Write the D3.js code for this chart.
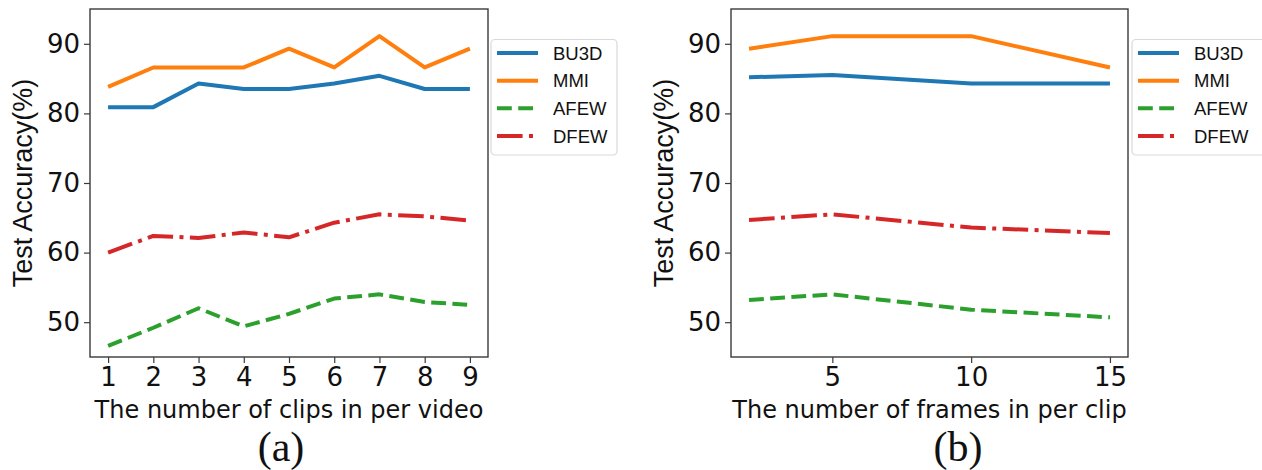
<!DOCTYPE html>
<html>
<head>
<meta charset="utf-8">
<script src="https://cdn.jsdelivr.net/npm/d3@7"></script>
<style>
  html, body { margin: 0; padding: 0; background: #fff; }
  svg { display: block; }
  text { font-family: "DejaVu Sans", sans-serif; fill: #111; }
</style>
</head>
<body>
<svg id="chart" width="1262" height="470"></svg>
<script>
// ---- data ----
const seriesNames = ["BU3D", "MMI", "AFEW", "DFEW"];
const seriesColors = ["#1f77b4", "#ff7f0e", "#2ca02c", "#d62728"];

// (a) clips per video
const clipsX = [1, 2, 3, 4, 5, 6, 7, 8, 9];
const clipsBU3D = [80.9, 80.9, 84.3, 83.5, 83.5, 84.3, 85.4, 83.5, 83.5];
const clipsMMI  = [83.8, 86.6, 86.6, 86.6, 89.3, 86.6, 91.1, 86.6, 89.3];
const clipsAFEW = [46.6, 49.2, 52.0, 49.4, 51.2, 53.4, 54.0, 52.9, 52.5];
const clipsDFEW = [60.0, 62.4, 62.1, 62.9, 62.2, 64.3, 65.5, 65.2, 64.6];

// (b) frames per clip
const framesX = [2, 5, 10, 15];
const framesBU3D = [85.2, 85.5, 84.3, 84.3];
const framesMMI  = [89.3, 91.1, 91.1, 86.6];
const framesAFEW = [53.2, 54.0, 51.8, 50.7];
const framesDFEW = [64.7, 65.5, 63.6, 62.8];

const yTicks = [50, 60, 70, 80, 90];
const clipsTicks = [1, 2, 3, 4, 5, 6, 7, 8, 9];
const framesTicks = [5, 10, 15];

const yLabel = "Test Accuracy(%)";
const clipsLabel = "The number of clips in per video";
const framesLabel = "The number of frames in per clip";
const panelLabels = ["(a)", "(b)"];

// ---- drawing ----
const svg = d3.select("#chart");
const LW = 4;
const dashes = [null, null, [3.7*LW, 1.6*LW], [6.4*LW, 1.6*LW, 1*LW, 1.6*LW]];

function panel(cfg) {
  const { left, right, top, bottom, xDomain, xs, ys, xTicks, xLabel, label, labelX, legendX, legendW } = cfg;
  const g = svg.append("g");
  const x = d3.scaleLinear().domain(xDomain).range([left, right]);
  const y = d3.scaleLinear().domain([45, 95]).range([bottom, top]);

  // lines
  const line = d3.line().x(d => x(d[0])).y(d => y(d[1]));
  ys.forEach((vals, i) => {
    g.append("path")
      .datum(xs.map((xv, j) => [xv, vals[j]]))
      .attr("fill", "none")
      .attr("stroke", seriesColors[i])
      .attr("stroke-width", LW)
      .attr("stroke-linejoin", "round")
      .attr("stroke-dasharray", dashes[i] ? dashes[i].join(",") : null)
      .attr("d", line);
  });

  // frame
  g.append("rect")
    .attr("x", left).attr("y", top)
    .attr("width", right - left).attr("height", bottom - top)
    .attr("fill", "none").attr("stroke", "#3a3a3a").attr("stroke-width", 1.4);

  // axes
  const ax = g.append("g").attr("transform", `translate(0,${bottom})`)
    .call(d3.axisBottom(x).tickValues(xTicks).tickSize(6).tickPadding(5).tickFormat(d3.format("d")));
  const ay = g.append("g").attr("transform", `translate(${left},0)`)
    .call(d3.axisLeft(y).tickValues(yTicks).tickSize(6).tickPadding(4).tickFormat(d3.format("d")));
  [ax, ay].forEach(a => {
    a.select(".domain").remove();
    a.selectAll(".tick line").attr("stroke", "#3a3a3a").attr("stroke-width", 1.2);
    a.selectAll(".tick text").style("font-size", "26px").style("font-family", "DejaVu Sans").attr("fill", "#111");
  });

  // axis labels
  g.append("text")
    .attr("x", (left + right) / 2).attr("y", 418)
    .attr("text-anchor", "middle").style("font-size", "24px")
    .text(xLabel);
  g.append("text")
    .attr("transform", `translate(${left - 58},${(top + bottom) / 2}) rotate(-90)`)
    .attr("text-anchor", "middle")
    .style("font-family", "'Liberation Sans', Arial, sans-serif")
    .style("font-size", "27px")
    .text(yLabel);
  g.append("text")
    .attr("x", labelX).attr("y", 461)
    .attr("text-anchor", "middle")
    .style("font-family", "'Liberation Serif', 'Times New Roman', serif")
    .style("font-size", "42px")
    .text(label);

  // legend
  const lg = g.append("g");
  lg.append("rect")
    .attr("x", legendX).attr("y", 39.5)
    .attr("width", legendW).attr("height", 115.5)
    .attr("rx", 4).attr("ry", 4)
    .attr("fill", "#fff").attr("fill-opacity", 0.8)
    .attr("stroke", "#d9d9d9").attr("stroke-width", 1.2);
  const rowY = d3.scalePoint().domain(seriesNames).range([53, 136]);
  seriesNames.forEach((name, i) => {
    const yy = rowY(name);
    lg.append("line")
      .attr("x1", legendX + 6).attr("x2", legendX + 47)
      .attr("y1", yy).attr("y2", yy)
      .attr("stroke", seriesColors[i]).attr("stroke-width", LW)
      .attr("stroke-dasharray", dashes[i] ? dashes[i].join(",") : null);
    lg.append("text")
      .attr("x", legendX + 62).attr("y", yy + 6.8)
      .style("font-family", "'Liberation Sans', Arial, sans-serif")
      .style("font-size", "18.5px")
      .text(name);
  });
}

panel({
  left: 90, right: 488, top: 9, bottom: 357,
  xDomain: [0.6, 9.4], xs: clipsX,
  ys: [clipsBU3D, clipsMMI, clipsAFEW, clipsDFEW],
  xTicks: clipsTicks, xLabel: clipsLabel, label: panelLabels[0], labelX: 281,
  legendX: 491, legendW: 126
});
panel({
  left: 731, right: 1128, top: 9, bottom: 357,
  xDomain: [1.35, 15.65], xs: framesX,
  ys: [framesBU3D, framesMMI, framesAFEW, framesDFEW],
  xTicks: framesTicks, xLabel: framesLabel, label: panelLabels[1], labelX: 958,
  legendX: 1132, legendW: 140
});
</script>
</body>
</html>
